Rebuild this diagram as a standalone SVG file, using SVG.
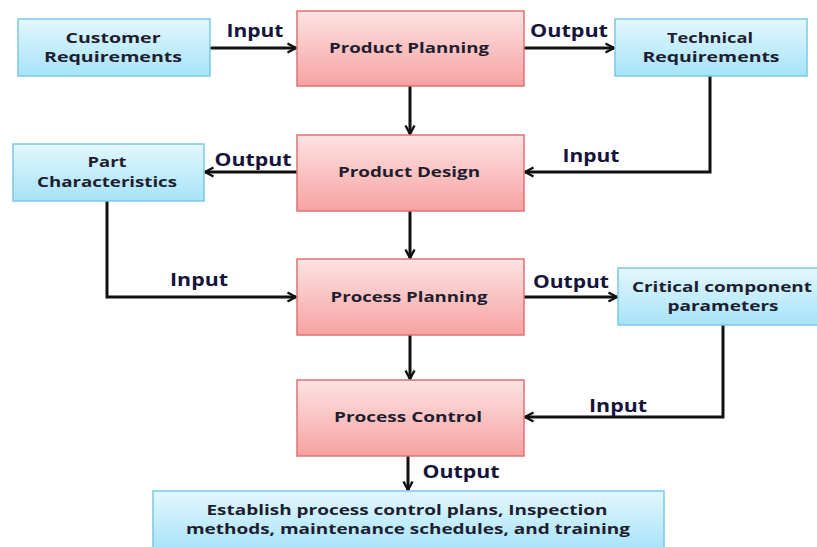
<svg xmlns="http://www.w3.org/2000/svg" width="817" height="547" viewBox="0 0 817 547">
<defs>
<linearGradient id="gBlue" x1="0" y1="0" x2="0" y2="1">
<stop offset="0" stop-color="#e3f7fd"/>
<stop offset="1" stop-color="#a6e3f8"/>
</linearGradient>
<linearGradient id="gPink" x1="0" y1="0" x2="0" y2="1">
<stop offset="0" stop-color="#fde3e3"/>
<stop offset="1" stop-color="#f7a2a2"/>
</linearGradient>
<marker id="arr" viewBox="0 0 12 12" refX="10.5" refY="6" markerWidth="12" markerHeight="12" markerUnits="userSpaceOnUse" orient="auto">
<path d="M2,1.5 L10.5,6 L2,10.5" fill="none" stroke="#111" stroke-width="2.4" stroke-linejoin="miter"/>
</marker>
</defs>
<style>
.blue{fill:url(#gBlue);stroke:#7cc8e2;stroke-width:1.5}
.pink{fill:url(#gPink);stroke:#de7373;stroke-width:1.5}
.t{font-family:"Open Sans","Liberation Sans",sans-serif;font-weight:700;font-size:14px;fill:#1e1e30;text-anchor:middle}
.l{font-family:"Open Sans","Liberation Sans",sans-serif;font-weight:700;font-size:17px;fill:#14143c;text-anchor:middle}
.c{fill:none;stroke:#111;stroke-width:3;marker-end:url(#arr)}
</style>
<rect width="817" height="547" fill="#ffffff"/>
<g id="connectors">
<path class="c" d="M210,48 H296"/>
<path class="c" d="M410,86 V134"/>
<path class="c" d="M524,48 H614"/>
<path class="c" d="M710,76 V172 H525"/>
<path class="c" d="M297,172 H205"/>
<path class="c" d="M107,201 V297 H296"/>
<path class="c" d="M410,211 V258"/>
<path class="c" d="M524,297 H617"/>
<path class="c" d="M723,325 V417 H525"/>
<path class="c" d="M410,335 V379"/>
<path class="c" d="M408,456 V490"/>
<text class="l" x="255" y="37" textLength="57" lengthAdjust="spacingAndGlyphs">Input</text>
<text class="l" x="569" y="37" textLength="78" lengthAdjust="spacingAndGlyphs">Output</text>
<text class="l" x="591" y="162" textLength="57" lengthAdjust="spacingAndGlyphs">Input</text>
<text class="l" x="253" y="166" textLength="77" lengthAdjust="spacingAndGlyphs">Output</text>
<text class="l" x="199" y="286" textLength="58" lengthAdjust="spacingAndGlyphs">Input</text>
<text class="l" x="571" y="288" textLength="76" lengthAdjust="spacingAndGlyphs">Output</text>
<text class="l" x="618" y="412" textLength="58" lengthAdjust="spacingAndGlyphs">Input</text>
<text class="l" x="461" y="478" textLength="77" lengthAdjust="spacingAndGlyphs">Output</text>
</g>
<g id="customer-requirements">
<rect class="blue" x="18" y="19" width="192" height="57"/>
<text class="t" x="113" y="43" textLength="95" lengthAdjust="spacingAndGlyphs">Customer</text>
<text class="t" x="113" y="62" textLength="138" lengthAdjust="spacingAndGlyphs">Requirements</text>
</g>
<g id="product-planning">
<rect class="pink" x="297" y="11" width="227" height="75"/>
<text class="t" x="409" y="53" textLength="160" lengthAdjust="spacingAndGlyphs">Product Planning</text>
</g>
<g id="technical-requirements">
<rect class="blue" x="615" y="19" width="192" height="57"/>
<text class="t" x="710" y="43" textLength="86" lengthAdjust="spacingAndGlyphs">Technical</text>
<text class="t" x="711" y="62" textLength="137" lengthAdjust="spacingAndGlyphs">Requirements</text>
</g>
<g id="part-characteristics">
<rect class="blue" x="13" y="144" width="191" height="57"/>
<text class="t" x="107" y="167" textLength="39" lengthAdjust="spacingAndGlyphs">Part</text>
<text class="t" x="107" y="187" textLength="140" lengthAdjust="spacingAndGlyphs">Characteristics</text>
</g>
<g id="product-design">
<rect class="pink" x="297" y="135" width="227" height="76"/>
<text class="t" x="409" y="177" textLength="142" lengthAdjust="spacingAndGlyphs">Product Design</text>
</g>
<g id="process-planning">
<rect class="pink" x="297" y="259" width="227" height="76"/>
<text class="t" x="409" y="302" textLength="157" lengthAdjust="spacingAndGlyphs">Process Planning</text>
</g>
<g id="critical-component-parameters">
<rect class="blue" x="618" y="268" width="200" height="57"/>
<text class="t" x="722" y="292" textLength="180" lengthAdjust="spacingAndGlyphs">Critical component</text>
<text class="t" x="723" y="311" textLength="111" lengthAdjust="spacingAndGlyphs">parameters</text>
</g>
<g id="process-control">
<rect class="pink" x="297" y="380" width="227" height="76"/>
<text class="t" x="408" y="422" textLength="148" lengthAdjust="spacingAndGlyphs">Process Control</text>
</g>
<g id="establish-plans">
<rect class="blue" x="153" y="491" width="511" height="60"/>
<text class="t" x="407" y="515" textLength="401" lengthAdjust="spacingAndGlyphs">Establish process control plans, Inspection</text>
<text class="t" x="408" y="534" textLength="444" lengthAdjust="spacingAndGlyphs">methods, maintenance schedules, and training</text>
</g>
</svg>
